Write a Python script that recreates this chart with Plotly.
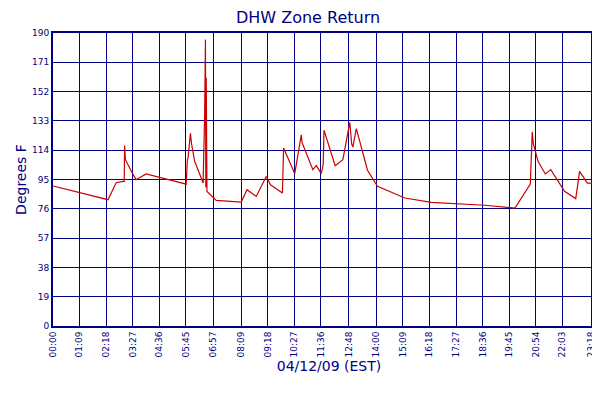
import plotly.graph_objects as go

minutes = [0,3,143,164,182,185,186,188,204,216,242,281,346,349,351,357,360,368,390,394,396,397,398,400,424,489,504,528,554,565,596,599,628,645,647,675,684,697,702,704,733,753,771,776,779,788,817,843,914,983,1121,1200,1234,1240,1245,1248,1260,1279,1293,1329,1358,1368,1388,1398,1424,1434]
values  = [91,90.6,81.9,92.9,93.8,93.8,117,108,100,94.9,98.6,96,92,108,109,125,118,106.8,92.7,138,185.7,90,161,87.3,81.5,80.4,88.4,84,97,91.6,86.2,115.4,98.8,124,119,101.4,104,98.8,105,127,104,107.9,132,118,116,128,101,90.6,83,80.2,78.3,76.5,89.5,92,126,118,106.8,98.6,101.4,87.3,82.6,100.3,92.7,92.7,97.7,97]
tick_text = ["00:00","01:09","02:18","03:27","04:36","05:45","06:57","08:09","09:18","10:27","11:36","12:48",
             "14:00","15:09","16:18","17:27","18:36","19:45","20:54","22:03","23:18","23:54"]
tick_vals = [int(t[:2]) * 60 + int(t[3:]) for t in tick_text]
y_ticks = list(range(0, 191, 19))
navy = "#000080"

fig = go.Figure(go.Scatter(x=minutes, y=values, mode="lines", name="DHW Zone Return",
                           line=dict(color="#cc0000", width=1.2)))
fig.update_layout(
    width=600, height=400, paper_bgcolor="white", plot_bgcolor="white",
    margin=dict(l=45, r=3, t=25, b=82, autoexpand=False),
    font=dict(family="DejaVu Sans", size=9, color=navy),
    title=dict(text="DHW Zone Return", x=0.5, y=0.99, yanchor="top", font=dict(size=16, color=navy)),
    showlegend=True,
    legend=dict(orientation="h", x=0.5, xanchor="center", y=-0.22, yanchor="top", font=dict(size=11, color=navy)),
)
fig.update_xaxes(range=[0, 1434], tickvals=tick_vals, ticktext=tick_text, tickangle=-90, automargin=False,
                 showgrid=True, gridcolor=navy, gridwidth=1, showline=True, linecolor=navy, linewidth=2,
                 mirror=True, zeroline=False, ticks="", tickfont=dict(size=9, color=navy),
                 title=dict(text="04/12/09 (EST)", font=dict(size=14, color=navy), standoff=4))
fig.update_yaxes(range=[0, 190], tickvals=y_ticks, showgrid=True, gridcolor=navy, gridwidth=1, automargin=False,
                 showline=True, linecolor=navy, linewidth=2, mirror=True, zeroline=False, ticks="",
                 tickfont=dict(size=9, color=navy),
                 title=dict(text="Degrees F", font=dict(size=14, color=navy), standoff=2))
fig.write_html("out.html")
